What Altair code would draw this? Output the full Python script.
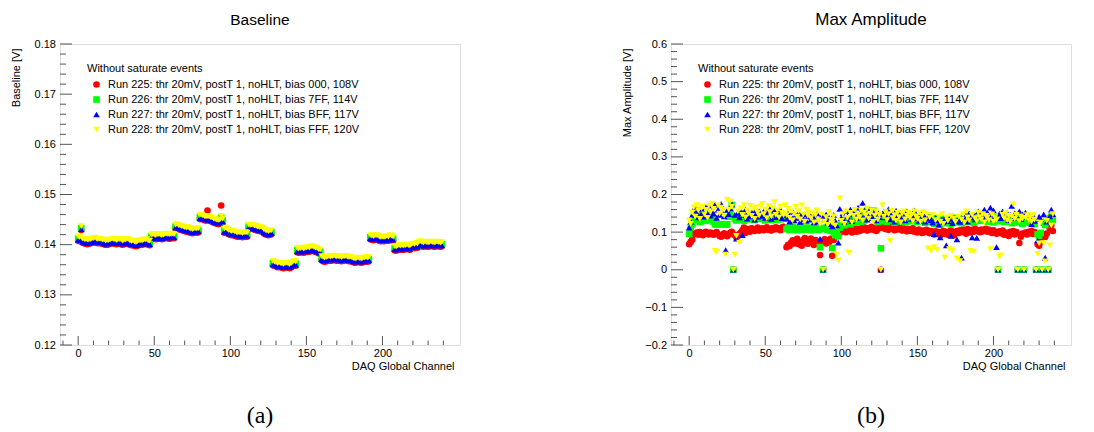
import altair as alt
import pandas as pd

FONT = "Liberation Sans"
SERIF = "Liberation Serif"

runs = [
    "Run 225: thr 20mV, postT 1, noHLT, bias 000, 108V",
    "Run 226: thr 20mV, postT 1, noHLT, bias 7FF, 114V",
    "Run 227: thr 20mV, postT 1, noHLT, bias BFF, 117V",
    "Run 228: thr 20mV, postT 1, noHLT, bias FFF, 120V",
]
colors = ["#ff0000", "#00ff00", "#0000ff", "#ffff00"]
shapes = ["circle", "square", "triangle-up", "triangle-down"]

channels = list(range(240))

# ---------------- Baseline [V] ----------------
base_225 = [
    .1408, .1407, .1429, .1404, .1403, .1402, .1401, .1402, .1403, .1404, .1405, .1405, .1404, .1403, .1404, .1403,
    .1402, .1401, .1400, .1400, .1401, .1402, .1404, .1403, .1402, .1401, .1402, .1403, .1402, .1400, .1401, .1402,
    .1403, .1402, .1400, .1399, .1400, .1398, .1397, .1398, .1400, .1401, .1400, .1401, .1402, .1403, .1400, .1399,
    .1412, .1413, .1412, .1411, .1412, .1413, .1412, .1411, .1412, .1413, .1414, .1413, .1412, .1413, .1414, .1413,
    .1432, .1433, .1431, .1430, .1429, .1428, .1427, .1426, .1427, .1425, .1424, .1423, .1424, .1425, .1424, .1425,
    .1451, .1452, .1450, .1449, .1448, .1468, .1448, .1447, .1446, .1444, .1443, .1442, .1441, .1442, .1478, .1444,
    .1424, .1426, .1423, .1421, .1420, .1419, .1420, .1418, .1417, .1416, .1417, .1416, .1415, .1416, .1417, .1416,
    .1432, .1431, .1432, .1431, .1430, .1429, .1428, .1427, .1428, .1426, .1423, .1421, .1420, .1419, .1420, .1421,
    .1359, .1358, .1357, .1355, .1356, .1355, .1354, .1353, .1355, .1356, .1354, .1353, .1355, .1357, .1360, .1358,
    .1385, .1384, .1385, .1386, .1384, .1385, .1386, .1387, .1386, .1388, .1389, .1387, .1386, .1385, .1383, .1382,
    .1369, .1367, .1366, .1367, .1368, .1369, .1368, .1369, .1370, .1369, .1368, .1369, .1368, .1367, .1368, .1369,
    .1369, .1368, .1367, .1368, .1366, .1365, .1364, .1365, .1366, .1365, .1364, .1365, .1366, .1367, .1366, .1367,
    .1411, .1410, .1409, .1410, .1411, .1410, .1408, .1407, .1408, .1407, .1408, .1409, .1408, .1411, .1410, .1408,
    .1389, .1388, .1390, .1391, .1390, .1391, .1390, .1391, .1392, .1391, .1390, .1393, .1394, .1393, .1395, .1394,
    .1398, .1399, .1397, .1396, .1398, .1397, .1396, .1397, .1398, .1397, .1396, .1397, .1398, .1397, .1396, .1397,
]
base_226 = [
    .1412, .1411, .1433, .1408, .1407, .1406, .1405, .1406, .1407, .1408, .1409, .1409, .1408, .1407, .1408, .1407,
    .1406, .1405, .1404, .1404, .1405, .1406, .1408, .1407, .1406, .1405, .1406, .1407, .1406, .1404, .1405, .1406,
    .1407, .1406, .1404, .1403, .1404, .1402, .1401, .1402, .1404, .1405, .1404, .1405, .1406, .1407, .1404, .1403,
    .1416, .1417, .1416, .1415, .1416, .1417, .1416, .1415, .1416, .1417, .1418, .1417, .1416, .1417, .1418, .1417,
    .1436, .1437, .1435, .1434, .1433, .1432, .1431, .1430, .1431, .1429, .1428, .1427, .1428, .1429, .1428, .1429,
    .1455, .1456, .1454, .1453, .1452, .1453, .1452, .1451, .1450, .1448, .1447, .1446, .1445, .1446, .1454, .1448,
    .1428, .1430, .1427, .1425, .1424, .1423, .1424, .1422, .1421, .1420, .1421, .1420, .1419, .1420, .1421, .1420,
    .1436, .1435, .1436, .1435, .1434, .1433, .1432, .1431, .1432, .1430, .1427, .1425, .1424, .1423, .1424, .1425,
    .1363, .1362, .1361, .1359, .1360, .1359, .1358, .1357, .1359, .1360, .1358, .1357, .1359, .1361, .1364, .1362,
    .1389, .1388, .1389, .1390, .1388, .1389, .1390, .1391, .1390, .1392, .1393, .1391, .1390, .1389, .1387, .1386,
    .1373, .1371, .1370, .1371, .1372, .1373, .1372, .1373, .1374, .1373, .1372, .1373, .1372, .1371, .1372, .1373,
    .1373, .1372, .1371, .1372, .1370, .1369, .1368, .1369, .1370, .1369, .1368, .1369, .1370, .1371, .1370, .1371,
    .1415, .1414, .1413, .1414, .1415, .1414, .1412, .1411, .1412, .1411, .1412, .1413, .1412, .1415, .1414, .1412,
    .1393, .1392, .1394, .1395, .1394, .1395, .1394, .1395, .1396, .1395, .1394, .1397, .1398, .1397, .1399, .1398,
    .1402, .1403, .1401, .1400, .1402, .1401, .1400, .1401, .1402, .1401, .1400, .1401, .1402, .1401, .1400, .1401,
]
base_227 = [
    .1410, .1409, .1431, .1406, .1405, .1404, .1403, .1404, .1405, .1406, .1407, .1407, .1406, .1405, .1406, .1405,
    .1404, .1403, .1402, .1402, .1403, .1404, .1406, .1405, .1404, .1403, .1404, .1405, .1404, .1402, .1403, .1404,
    .1405, .1404, .1402, .1401, .1402, .1400, .1399, .1400, .1402, .1403, .1402, .1403, .1404, .1405, .1402, .1401,
    .1414, .1415, .1414, .1413, .1414, .1415, .1414, .1413, .1414, .1415, .1416, .1415, .1414, .1415, .1416, .1415,
    .1434, .1435, .1433, .1432, .1431, .1430, .1429, .1428, .1429, .1427, .1426, .1425, .1426, .1427, .1426, .1427,
    .1453, .1454, .1452, .1451, .1450, .1451, .1450, .1449, .1448, .1446, .1445, .1444, .1443, .1444, .1457, .1446,
    .1426, .1428, .1425, .1423, .1422, .1421, .1422, .1420, .1419, .1418, .1419, .1418, .1417, .1418, .1419, .1418,
    .1434, .1433, .1434, .1433, .1432, .1431, .1430, .1429, .1430, .1428, .1425, .1423, .1422, .1421, .1422, .1423,
    .1361, .1360, .1359, .1357, .1358, .1357, .1356, .1355, .1357, .1358, .1356, .1355, .1357, .1359, .1362, .1360,
    .1387, .1386, .1387, .1388, .1386, .1387, .1388, .1389, .1388, .1390, .1391, .1389, .1388, .1387, .1385, .1384,
    .1371, .1369, .1368, .1369, .1370, .1371, .1370, .1371, .1372, .1371, .1370, .1371, .1370, .1369, .1370, .1371,
    .1371, .1370, .1369, .1370, .1368, .1367, .1366, .1367, .1368, .1367, .1366, .1367, .1368, .1369, .1368, .1369,
    .1413, .1412, .1411, .1412, .1413, .1412, .1410, .1409, .1410, .1409, .1410, .1411, .1410, .1413, .1412, .1410,
    .1391, .1390, .1392, .1393, .1392, .1393, .1392, .1393, .1394, .1393, .1392, .1395, .1396, .1395, .1397, .1396,
    .1400, .1401, .1399, .1398, .1400, .1399, .1398, .1399, .1400, .1399, .1398, .1399, .1400, .1399, .1398, .1399,
]
base_228 = [
    .1416, .1415, .1437, .1412, .1411, .1411, .1410, .1410, .1411, .1412, .1413, .1414, .1412, .1411, .1412, .1411,
    .1410, .1410, .1408, .1409, .1409, .1410, .1412, .1411, .1411, .1409, .1410, .1411, .1411, .1408, .1409, .1410,
    .1411, .1411, .1408, .1407, .1408, .1406, .1405, .1407, .1408, .1409, .1408, .1410, .1410, .1411, .1408, .1408,
    .1420, .1421, .1420, .1419, .1421, .1421, .1420, .1419, .1420, .1421, .1422, .1421, .1421, .1421, .1422, .1421,
    .1440, .1441, .1439, .1438, .1437, .1436, .1435, .1434, .1435, .1433, .1432, .1431, .1432, .1433, .1432, .1433,
    .1459, .1460, .1458, .1457, .1456, .1457, .1456, .1455, .1454, .1452, .1451, .1450, .1449, .1450, .1457, .1452,
    .1432, .1434, .1431, .1429, .1428, .1427, .1428, .1426, .1425, .1424, .1425, .1424, .1423, .1424, .1425, .1424,
    .1440, .1439, .1440, .1439, .1438, .1437, .1436, .1435, .1436, .1434, .1431, .1429, .1428, .1427, .1428, .1429,
    .1367, .1366, .1365, .1363, .1364, .1363, .1362, .1361, .1363, .1364, .1362, .1361, .1363, .1365, .1368, .1366,
    .1393, .1392, .1393, .1394, .1392, .1393, .1394, .1395, .1394, .1396, .1397, .1395, .1394, .1393, .1391, .1390,
    .1377, .1375, .1374, .1375, .1376, .1377, .1376, .1377, .1378, .1377, .1376, .1377, .1376, .1375, .1376, .1377,
    .1377, .1376, .1375, .1376, .1374, .1373, .1372, .1373, .1374, .1373, .1372, .1373, .1374, .1375, .1374, .1375,
    .1419, .1418, .1417, .1418, .1419, .1418, .1416, .1415, .1416, .1415, .1416, .1417, .1416, .1419, .1418, .1416,
    .1397, .1396, .1398, .1399, .1398, .1399, .1398, .1399, .1400, .1399, .1398, .1401, .1402, .1401, .1403, .1402,
    .1406, .1407, .1405, .1404, .1406, .1405, .1404, .1405, .1406, .1405, .1404, .1405, .1406, .1405, .1404, .1405,
]

# ---------------- Max Amplitude [V] ----------------
amp_225 = [
    .068, .074, .080, .097, .095, .099, .093, .100, .096, .092, .098, .101, .095, .094, .099, .097,
    .093, .096, .100, .095, .090, .088, .093, .097, .092, .089, .094, .098, .101, 0, .092, .086,
    .090, .095, .099, .105, .112, .098, .104, .108, .101, .110, .106, .103, .109, .112, .104, .107,
    .110, .105, .108, .113, .106, .109, .104, .111, .107, .113, .108, .110, .105, .112, .114, .109,
    .060, .066, .063, .072, .078, .070, .075, .082, .068, .073, .064, .079, .084, .071, .069, .077,
    .083, .074, .066, .079, .072, .068, .039, .075, 0, .081, .070, .078, .073, .082, .037, .079,
    .088, .095, .102, .098, .106, .103, .109, .100, .111, .104, .107, .099, .112, .105, .101, .108,
    .103, .110, .106, .113, .109, .104, .111, .107, .114, .106, .110, .103, .108, .112, 0, .111,
    .115, .108, .112, .106, .110, .114, .109, .105, .111, .107, .113, .108, .104, .110, .106, .102,
    .108, .103, .106, .110, .101, .105, .099, .107, .103, .098, .104, .100, .106, .101, .097, .103,
    .099, .094, .102, .096, .100, .092, .098, .103, .095, .101, .093, .099, .104, .097, .091, .100,
    .103, .098, .105, .100, .107, .102, .096, .108, .104, .099, .106, .101, .109, .103, .105, .100,
    .107, .102, .104, .109, .101, .106, .103, .098, .105, .100, .096, 0, .102, .097, .104, .093,
    .099, .095, .090, .101, .097, .103, .094, .100, 0, .071, .088, .096, 0, .099, .094, .101,
    .097, .103, .095, .100, 0, .068, .064, .074, 0, .089, .087, .096, 0, .110, .118, .103,
]
amp_226 = [
    .095, .112, .121, .138, .145, .132, .141, .127, .148, .136, .143, .130, .139, .146, .133, .140,
    .128, .121, .120, .121, .120, .121, .120, .121, .120, .121, .141, .152, .172, 0, .136, .131,
    .139, .144, .133, .141, .130, .146, .137, .142, .134, .140, .145, .132, .138, .143, .135, .141,
    .136, .142, .131, .139, .144, .133, .140, .137, .145, .132, .138, .143, .134, .140, .136, .141,
    .108, .112, .106, .110, .114, .107, .111, .105, .109, .113, .106, .110, .108, .112, .107, .111,
    .105, .109, .113, .107, .111, .106, .060, .110, 0, .108, .112, .106, .110, .104, .058, .100,
    .092, .098, .089, .112, .120, .126, .118, .131, .124, .135, .121, .128, .133, .125, .137, .129,
    .134, .127, .140, .131, .155, .157, .156, .158, .155, .157, .138, .132, .127, .135, .057, .129,
    .133, .140, .127, .136, .142, .130, .138, .125, .134, .141, .128, .137, .131, .143, .126, .135,
    .139, .129, .136, .142, .131, .138, .127, .134, .140, .130, .137, .125, .133, .139, .128, .135,
    .131, .122, .137, .128, .134, .120, .129, .136, .124, .132, .127, .135, .121, .130, .138, .126,
    .133, .128, .137, .124, .131, .139, .127, .134, .140, .129, .136, .125, .132, .142, .130, .137,
    .139, .131, .143, .135, .128, .141, .133, .137, .126, .134, .140, 0, .129, .132, .138, .127,
    .135, .128, .131, .139, .124, .133, .137, .126, 0, .130, .136, .122, 0, .134, .127, .131,
    .125, .133, .128, .121, 0, .094, .091, .098, 0, .125, .119, .130, 0, .137, .141, .132,
]
amp_227 = [
    .112, .128, .145, .158, .168, .152, .139, .162, .147, .155, .141, .166, .150, .171, .144, .157,
    .149, .173, .138, .160, .146, .175, .153, .142, .052, .158, .148, .163, .175, 0, .146, .083,
    .151, .139, .157, .092, .145, .160, .136, .153, .142, .148, .158, .133, .150, .141, .155, .146,
    .143, .156, .138, .151, .147, .162, .135, .149, .157, .140, .153, .144, .159, .137, .150, .146,
    .136, .149, .128, .142, .155, .131, .146, .138, .151, .127, .144, .135, .148, .130, .141, .152,
    .133, .145, .126, .139, .150, .128, .082, .143, 0, .134, .147, .125, .138, .121, .115, .146,
    .130, .118, .072, .162, .137, .150, .128, .156, .142, .134, .160, .129, .147, .153, .138, .165,
    .150, .141, .178, .158, .146, .133, .162, .149, .137, .155, .143, .131, .152, .140, 0, .148,
    .155, .139, .147, .161, .134, .151, .143, .128, .157, .145, .136, .152, .140, .148, .131, .155,
    .142, .151, .135, .146, .158, .137, .149, .130, .144, .153, .139, .128, .147, .136, .141, .132,
    .125, .095, .138, .131, .120, .086, .134, .127, .138, .065, .129, .135, .090, .124, .138, .130,
    .081, .136, .127, .032, .140, .133, .145, .128, .150, .139, .086, .146, .134, .085, .155, .142,
    .148, .137, .160, .143, .152, .136, .165, .147, .158, .141, .060, 0, .149, .137, .155, .144,
    .139, .151, .132, .146, .170, .138, .150, .143, 0, .155, .135, .147, 0, .152, .140, .146,
    .136, .121, .144, .130, 0, .078, .141, .135, 0, .147, .032, .128, 0, .142, .160, .148,
]
amp_228 = [
    .131, .122, .152, .166, .141, .172, .158, .135, .163, .168, .147, .159, .138, .170, .153, .176,
    .162, .050, .048, .171, .149, .165, .158, .144, .040, .186, .160, .181, .168, 0, .040, .090,
    .155, .072, .163, .146, .172, .139, .158, .150, .170, .143, .161, .135, .166, .152, .144, .168,
    .175, .148, .160, .137, .169, .153, .142, .164, .180, .146, .158, .139, .167, .151, .145, .172,
    .145, .162, .138, .155, .131, .149, .167, .141, .156, .134, .171, .147, .128, .160, .143, .152,
    .137, .150, .126, .145, .158, .132, .121, .147, 0, .128, .140, .119, .153, .133, .124, .142,
    .118, .041, .025, .190, .130, .148, .122, .155, .138, .045, .151, .126, .143, .159, .134, .147,
    .140, .158, .131, .152, .145, .163, .136, .149, .158, .127, .144, .155, .133, .146, 0, .172,
    .141, .153, .132, .148, .077, .157, .137, .145, .130, .152, .140, .126, .149, .155, .134, .143,
    .151, .138, .146, .129, .155, .142, .135, .150, .127, .144, .153, .131, .148, .057, .139, .050,
    .145, .060, .132, .053, .141, .128, .148, .122, .033, .139, .130, .055, .143, .050, .136, .127,
    .030, .141, .023, .133, .147, .126, .155, .139, .131, .050, .146, .048, .137, .129, .152, .140,
    .134, .148, .126, .143, .139, .131, .055, .147, .128, .140, .133, 0, .035, .038, .146, .137,
    .150, .132, .143, .127, .141, .174, .135, .146, 0, .129, .142, .136, 0, .138, .145, .131,
    .140, .128, .146, .133, 0, .042, .070, .125, 0, .071, .022, .130, 0, .065, .118, .148,
]

# axis tick positions
x_labels = [0, 50, 100, 150, 200]
x_minor = [-10, 10, 20, 30, 40, 60, 70, 80, 90, 110, 120, 130, 140, 160, 170, 180, 190, 210, 220, 230, 240]
a_major = [0.12, 0.13, 0.14, 0.15, 0.16, 0.17, 0.18]
a_minor = [round(0.12 + 0.002 * i, 3) for i in range(31) if i % 5]
b_major = [-0.2, -0.1, 0.0, 0.1, 0.2, 0.3, 0.4, 0.5, 0.6]
b_minor = [round(-0.2 + 0.02 * i, 3) for i in range(41) if i % 5]

W, H = 400, 301
XDOM = [-11.95, 250.95]
TICK = "#555555"


def long_table(series):
    rows = []
    for run, vals in zip(runs, series):
        assert len(vals) == 240
        for ch, v in zip(channels, vals):
            rows.append({"x": ch, "y": v, "run": run})
    return pd.DataFrame(rows)


def panel(df, ydom, ymaj, ymin, yfmt, ytitle, title, title_size, caption, anchor=False):
    xs = alt.Scale(domain=XDOM, nice=False, zero=False)
    ys = alt.Scale(domain=ydom, nice=False, zero=False)
    xaxis = alt.Axis(
        values=x_labels, format="d", title="DAQ Global Channel",
        titleFont=FONT, titleFontSize=11, titleFontWeight="normal", titleColor="black",
        titleAlign="right", titleBaseline="alphabetic", titleX=394, titleY=24,
        labelFont=FONT, labelFontSize=11, labelColor="black", labelPadding=2,
        ticks=False, tickSize=0, domain=False, grid=False)
    yaxis = alt.Axis(
        values=ymaj, format=yfmt, title=ytitle,
        titleFont=FONT, titleFontSize=11, titleFontWeight="normal", titleColor="black",
        titleAngle=270, titleAlign="right", titleBaseline="middle", titleX=-43.5, titleY=4,
        labelFont=FONT, labelFontSize=11, labelColor="black", labelPadding=4.5,
        ticks=False, tickSize=0, domain=False, grid=False)
    leg = alt.Legend(
        title="Without saturate events", orient="none", legendX=27, legendY=19, padding=0,
        titleFont=FONT, titleFontSize=11, titleFontWeight="normal", titleColor="black",
        titlePadding=5, labelFont=FONT, labelFontSize=11, labelColor="black",
        labelOffset=6, symbolSize=44, symbolOffset=4, symbolStrokeWidth=0,
        rowPadding=3, labelLimit=500,
    )
    pts = alt.Chart(df).mark_point(filled=True, size=44, opacity=1).encode(
        x=alt.X("x:Q", scale=xs, axis=xaxis),
        y=alt.Y("y:Q", scale=ys, axis=yaxis),
        color=alt.Color("run:N", scale=alt.Scale(domain=runs, range=colors), legend=leg),
        shape=alt.Shape("run:N", scale=alt.Scale(domain=runs, range=shapes), legend=leg),
    )
    ymaj_r = alt.Chart(pd.DataFrame({"y": ymaj})).mark_rule(color=TICK, strokeWidth=1).encode(
        y=alt.Y("y:Q", scale=ys, axis=yaxis), x=alt.value(0), x2=alt.value(12))
    ymin_r = alt.Chart(pd.DataFrame({"y": ymin})).mark_rule(color=TICK, strokeWidth=1).encode(
        y=alt.Y("y:Q", scale=ys, axis=yaxis), x=alt.value(0), x2=alt.value(6))
    xmaj_r = alt.Chart(pd.DataFrame({"x": x_labels})).mark_rule(color=TICK, strokeWidth=1).encode(
        x=alt.X("x:Q", scale=xs, axis=xaxis), y=alt.value(H), y2=alt.value(H - 9))
    xmin_r = alt.Chart(pd.DataFrame({"x": x_minor})).mark_rule(color=TICK, strokeWidth=1).encode(
        x=alt.X("x:Q", scale=xs, axis=xaxis), y=alt.value(H), y2=alt.value(H - 4.5))
    ttl = alt.Chart(pd.DataFrame({"t": [title]})).mark_text(
        font=FONT, fontSize=title_size, align="center", baseline="alphabetic", color="black"
    ).encode(text="t:N", x=alt.value(W / 2), y=alt.value(-19))
    cap = alt.Chart(pd.DataFrame({"t": [caption]})).mark_text(
        font=SERIF, fontSize=24, align="center", baseline="middle", color="black"
    ).encode(text="t:N", x=alt.value(W / 2), y=alt.value(372))
    layers = [pts, ymin_r, ymaj_r, xmin_r, xmaj_r, ttl, cap]
    if anchor:
        corner = alt.Chart(pd.DataFrame({"t": [0]})).mark_rule(opacity=0, strokeWidth=1).encode(
            x=alt.value(-59), x2=alt.value(-58), y=alt.value(-43), y2=alt.value(-43))
        layers.append(corner)
    return alt.layer(*layers).properties(width=W, height=H)


pa = panel(long_table([base_225, base_226, base_227, base_228]), [0.12, 0.18], a_major, a_minor,
           ".2f", "Baseline [V]", "Baseline", 15.5, "(a)", anchor=True)
pb = panel(long_table([amp_225, amp_226, amp_227, amp_228]), [-0.2, 0.6], b_major, b_minor,
           ".1~f", "Max Amplitude [V]", "Max Amplitude", 17, "(b)")

chart = alt.hconcat(pa, pb, spacing=211, bounds="flush").resolve_scale(
    color="independent", shape="independent"
).resolve_legend(color="independent", shape="independent").properties(
    padding=0, autosize=alt.AutoSizeParams(type="pad")
).configure_view(stroke="#555555", strokeWidth=1).configure(background="white")

chart.save("out.html", embed_options={"renderer": "svg", "actions": False})
